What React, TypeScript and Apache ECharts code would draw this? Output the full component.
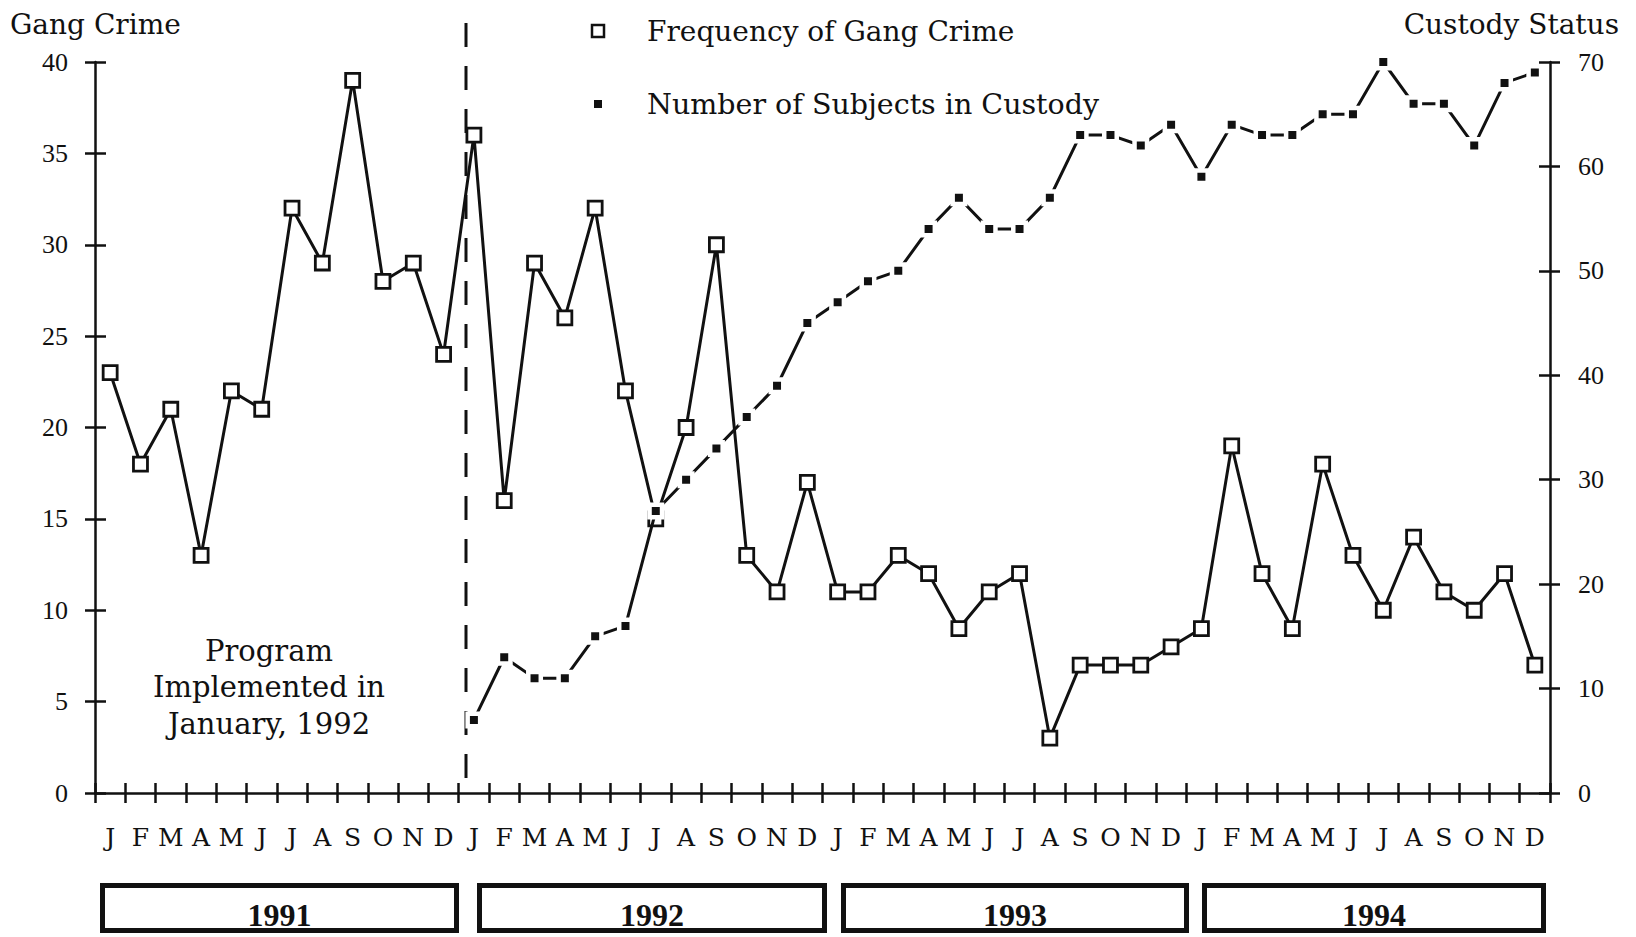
import React, { useEffect, useRef } from "react";
import * as echarts from "echarts";

const years = ["1991", "1992", "1993", "1994"];
const monthLetters = ["J", "F", "M", "A", "M", "J", "J", "A", "S", "O", "N", "D"];

const gangCrime1991 = [23, 18, 21, 13, 22, 21, 32, 29, 39, 28, 29, 24];
const gangCrime1992 = [36, 16, 29, 26, 32, 22, 15, 20, 30, 13, 11, 17];
const gangCrime1993 = [11, 11, 13, 12, 9, 11, 12, 3, 7, 7, 7, 8];
const gangCrime1994 = [9, 19, 12, 9, 18, 13, 10, 14, 11, 10, 12, 7];

const custody1991 = [null, null, null, null, null, null, null, null, null, null, null, null];
const custody1992 = [7, 13, 11, 11, 15, 16, 27, 30, 33, 36, 39, 45];
const custody1993 = [47, 49, 50, 54, 57, 54, 54, 57, 63, 63, 62, 64];
const custody1994 = [59, 64, 63, 63, 65, 65, 70, 66, 66, 62, 68, 69];

const leftAxisMin = 0;
const leftAxisMax = 40;
const leftAxisStep = 5;
const rightAxisMin = 0;
const rightAxisMax = 70;
const rightAxisStep = 10;

const seriesNames = ["Frequency of Gang Crime", "Number of Subjects in Custody"];
const axisTitles = ["Gang Crime", "Custody Status"];
const noteLines = ["Program", "Implemented in", "January, 1992"];

const SERIF = "'DejaVu Serif', 'Liberation Serif', serif";
const NUM = "'Liberation Serif', 'DejaVu Serif', serif";
const INK = "#111";

export default function App() {
  const ref = useRef<HTMLDivElement>(null);

  useEffect(() => {
    if (!ref.current) return;
    const chart = echarts.init(ref.current, null, { renderer: "svg" });

    const categories: string[] = [];
    years.forEach(() => monthLetters.forEach((m) => categories.push(m)));
    const gang = [...gangCrime1991, ...gangCrime1992, ...gangCrime1993, ...gangCrime1994];
    const custody = [...custody1991, ...custody1992, ...custody1993, ...custody1994];

    const baseX = {
      type: "category",
      data: categories,
      boundaryGap: true,
      position: "bottom",
    };

    const yBase = (pos: string, min: number, max: number, step: number) => ({
      type: "value",
      position: pos,
      min,
      max,
      interval: step,
      splitLine: { show: false },
    });

    const boxTop = 883;
    const boxBottom = 933;
    const yearBoxes = [
      [100, 459],
      [477, 827],
      [841, 1189],
      [1202, 1546],
    ];

    const graphics: any[] = [];
    yearBoxes.forEach((b, i) => {
      graphics.push({
        type: "rect",
        shape: { x: b[0] + 2.5, y: boxTop + 2.5, width: b[1] - b[0] - 5, height: boxBottom - boxTop - 5 },
        style: { fill: "#fff", stroke: INK, lineWidth: 5 },
        z: 10,
      });
      graphics.push({
        type: "text",
        x: (b[0] + b[1]) / 2,
        y: 915,
        style: {
          text: years[i],
          font: `bold 32px ${NUM}`,
          fill: INK,
          textAlign: "center",
          textVerticalAlign: "middle",
        },
        z: 11,
      });
    });

    graphics.push(
      {
        type: "text",
        x: 10,
        y: 24,
        style: { text: axisTitles[0], font: `28px ${SERIF}`, fill: INK, textAlign: "left", textVerticalAlign: "middle" },
      },
      {
        type: "text",
        x: 1619,
        y: 24,
        style: { text: axisTitles[1], font: `28px ${SERIF}`, fill: INK, textAlign: "right", textVerticalAlign: "middle" },
      },
      {
        type: "rect",
        shape: { x: 592, y: 25, width: 12, height: 12 },
        style: { fill: "#fff", stroke: INK, lineWidth: 2.5 },
      },
      {
        type: "text",
        x: 647,
        y: 31,
        style: { text: seriesNames[0], font: `28px ${SERIF}`, fill: INK, textAlign: "left", textVerticalAlign: "middle" },
      },
      {
        type: "rect",
        shape: { x: 594, y: 100, width: 8, height: 8 },
        style: { fill: INK },
      },
      {
        type: "text",
        x: 647,
        y: 104,
        style: { text: seriesNames[1], font: `28.5px ${SERIF}`, fill: INK, textAlign: "left", textVerticalAlign: "middle" },
      },
      {
        type: "line",
        shape: { x1: 466, y1: 23, x2: 466, y2: 793 },
        style: { stroke: INK, lineWidth: 3, lineDash: [24, 19] },
        z: 1,
      },
      {
        type: "text",
        x: 269,
        y: 687,
        style: {
          text: noteLines.join("\n"),
          font: `29px ${SERIF}`,
          lineHeight: 36.5,
          fill: INK,
          textAlign: "center",
          textVerticalAlign: "middle",
        },
      }
    );

    const option: any = {
      animation: false,
      backgroundColor: "#fff",
      grid: {
        left: 95,
        right: 86,
        top: 62,
        bottom: 144,
        containLabel: false,
        outerBoundsMode: "none",
      },
      xAxis: [
        {
          ...baseX,
          axisLine: { show: true, lineStyle: { color: INK, width: 2.5 } },
          axisTick: { show: true, inside: false, length: 10, lineStyle: { color: INK, width: 2.5 } },
          axisLabel: {
            show: true,
            interval: 0,
            margin: 32,
            color: INK,
            fontFamily: SERIF,
            fontSize: 25,
          },
        },
        {
          ...baseX,
          axisLine: { show: false },
          axisTick: { show: true, inside: true, length: 10, lineStyle: { color: INK, width: 2.5 } },
          axisLabel: { show: false },
        },
      ],
      yAxis: [
        {
          ...yBase("left", leftAxisMin, leftAxisMax, leftAxisStep),
          axisLine: { show: true, lineStyle: { color: INK, width: 2.5 } },
          axisTick: { show: true, inside: false, length: 10, lineStyle: { color: INK, width: 2.5 } },
          axisLabel: { show: true, margin: 27, color: INK, fontFamily: NUM, fontSize: 26 },
        },
        {
          ...yBase("right", rightAxisMin, rightAxisMax, rightAxisStep),
          axisLine: { show: true, lineStyle: { color: INK, width: 2.5 } },
          axisTick: { show: true, inside: false, length: 10, lineStyle: { color: INK, width: 2.5 } },
          axisLabel: { show: true, margin: 28, color: INK, fontFamily: NUM, fontSize: 26 },
        },
        {
          ...yBase("left", leftAxisMin, leftAxisMax, leftAxisStep),
          axisLine: { show: false },
          axisTick: { show: true, inside: true, length: 11, lineStyle: { color: INK, width: 2.5 } },
          axisLabel: { show: false },
        },
        {
          ...yBase("right", rightAxisMin, rightAxisMax, rightAxisStep),
          axisLine: { show: false },
          axisTick: { show: true, inside: true, length: 11, lineStyle: { color: INK, width: 2.5 } },
          axisLabel: { show: false },
        },
      ],
      series: [
        {
          name: seriesNames[0],
          type: "line",
          xAxisIndex: 0,
          yAxisIndex: 0,
          data: gang,
          symbol: "rect",
          symbolSize: 14,
          showAllSymbol: true,
          lineStyle: { color: INK, width: 3 },
          itemStyle: { color: "#fff", borderColor: INK, borderWidth: 2.8 },
          emphasis: { disabled: true },
          z: 3,
        },
        {
          name: seriesNames[1],
          type: "line",
          xAxisIndex: 0,
          yAxisIndex: 1,
          data: custody,
          connectNulls: false,
          symbol: "rect",
          symbolSize: 12.5,
          showAllSymbol: true,
          lineStyle: { color: INK, width: 3 },
          itemStyle: { color: INK, borderColor: "#fff", borderWidth: 4.5 },
          emphasis: { disabled: true },
          z: 4,
        },
      ],
      graphic: graphics,
    };

    chart.setOption(option);
    return () => {
      chart.dispose();
    };
  }, []);

  return (
    <div
      ref={ref}
      style={{ position: "fixed", left: 0, top: 0, width: 1636, height: 937, background: "#fff" }}
    />
  );
}
